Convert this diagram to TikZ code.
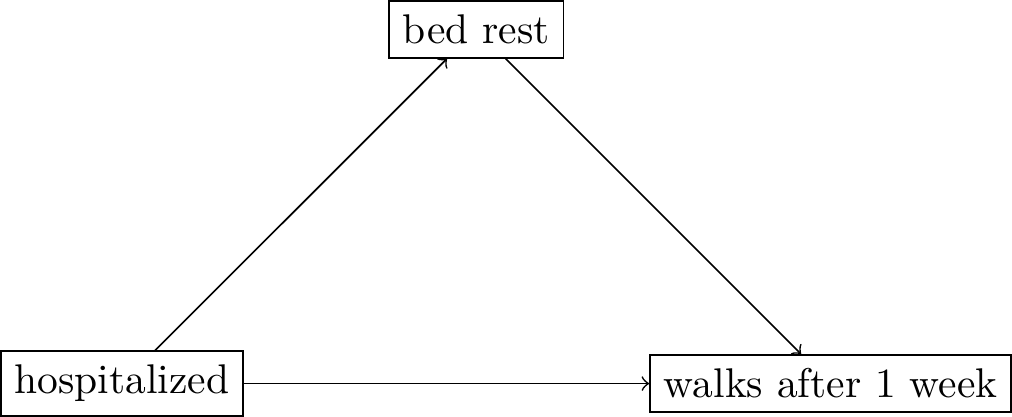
\documentclass[tikz,border=0pt]{standalone}
\begin{document}
\begin{tikzpicture}[box/.style={draw}]
	\node[box] (hosp) at (0,0) {hospitalized};
	\node[box] (bed) at (3,3) {bed rest};
	\node[box] (walk) at (6,0) {walks after 1 week};
	\draw[->] (hosp) -- (bed);
	\draw[->] (bed) -- (walk);
	\draw[->] (hosp) -- (walk);
\end{tikzpicture}
\end{document}
